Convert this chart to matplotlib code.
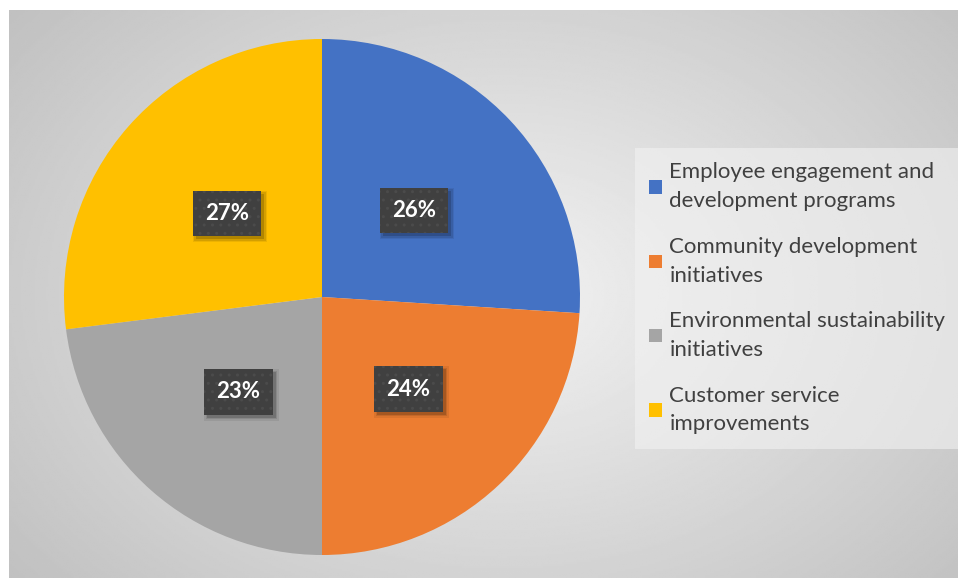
import numpy as np
import matplotlib.pyplot as plt
from matplotlib.patches import Rectangle

# Data
categories = ["Employee engagement and\ndevelopment programs",
              "Community development\ninitiatives",
              "Environmental sustainability\ninitiatives",
              "Customer service\nimprovements"]
shares = [26, 24, 23, 27]
colors = ["#4472c4", "#ed7d31", "#a5a5a5", "#ffc000"]

plt.rcParams['font.family'] = ['Lato', 'DejaVu Sans']

fig = plt.figure(figsize=(9.58, 5.78), dpi=100)
fig.patch.set_facecolor("white")

# Background panel with radial grey gradient
bg = fig.add_axes([9 / 958, 0, 1 - 9 / 958, 1 - 10 / 578])
yy, xx = np.mgrid[0:1:300j, 0:1:500j]
dist = np.sqrt(((xx - 0.52) / 0.75) ** 2 + ((yy - 0.5) / 0.9) ** 2)
shade = np.clip(0.95 - 0.22 * dist, 0.74, 0.95)
bg.imshow(shade, cmap="gray", vmin=0, vmax=1, extent=[0, 1, 0, 1], aspect="auto")
bg.axis("off")

# Pie
ax = fig.add_axes([(322 - 258) / 958, (578 - 297 - 258) / 578, 516 / 958, 516 / 578])
wedges, texts = ax.pie(shares, colors=colors, startangle=90, counterclock=False,
                       wedgeprops=dict(linewidth=0))
ax.set_xlim(-1, 1)
ax.set_ylim(-1, 1)
ax.set_aspect("equal")

labels = []
for w, v in zip(wedges, shares):
    ang = np.deg2rad((w.theta1 + w.theta2) / 2)
    x, y = 0.49 * np.cos(ang), 0.49 * np.sin(ang)
    t = ax.text(x, y, f"{v}%", ha="center", va="center", color="white",
                fontsize=16, fontweight="bold", zorder=5,
                bbox=dict(boxstyle="square,pad=0.55", facecolor="#404040",
                          edgecolor="#4b4b4b", hatch="..", linewidth=0))
    labels.append(t)

# soft drop shadow behind each label box
fig.canvas.draw()
for t in labels:
    bb = t.get_bbox_patch().get_window_extent()
    for grow, a in [(3, 0.07), (1.5, 0.1), (0, 0.16)]:
        ax.add_patch(Rectangle((bb.x0 + 3 - grow, bb.y0 - 3 - grow),
                               bb.width + 2 * grow, bb.height + 2 * grow,
                               transform=None, facecolor="black", alpha=a,
                               linewidth=0, zorder=4))

leg = fig.legend(wedges, categories, loc="upper left",
                 bbox_to_anchor=(635 / 958, 1 - 148 / 578),
                 frameon=True, fontsize=16, labelcolor="#404040",
                 handlelength=0.55, handleheight=0.55, handletextpad=0.35,
                 labelspacing=1.15, borderpad=0.65, borderaxespad=0, fancybox=False)
for txt in leg.get_texts():
    txt.set_linespacing(1.55)
leg.get_frame().set_facecolor("#f2f2f2")
leg.get_frame().set_alpha(0.6)
leg.get_frame().set_linewidth(0)

fig.savefig("out.png", dpi=100)
